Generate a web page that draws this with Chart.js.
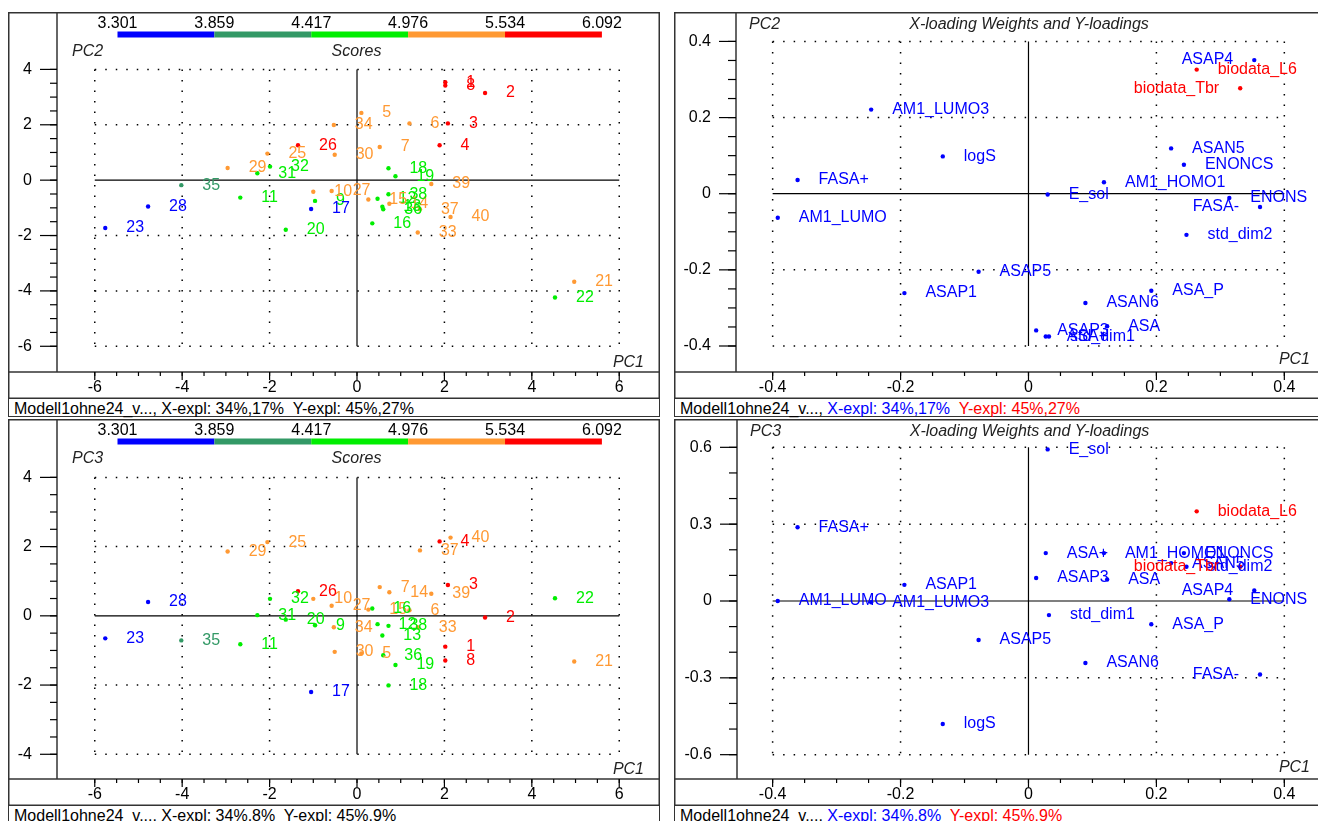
<!DOCTYPE html>
<html>
<head>
<meta charset="utf-8">
<title>PLS scores and loadings</title>
<script src="https://cdn.jsdelivr.net/npm/chart.js@4.4.1/dist/chart.umd.min.js"></script>
<style>
  html, body { margin: 0; padding: 0; background: #fff; }
  body { position: relative; width: 1318px; height: 821px; overflow: hidden; font-family: "Liberation Sans", Arial, sans-serif; }
  .panel { position: absolute; width: 652px; }
  .panel canvas { display: block; }
  .foot { height: 18px; border: 1.5px solid #333; border-top: none; box-sizing: border-box; font-size: 16px; line-height: 19px; white-space: pre; padding-left: 5px; color: #000; overflow: visible; }
  .xb { color: #0000ff; }
  .yr { color: #ff0000; }
</style>
</head>
<body>
<div class="panel" style="left:8px;top:12px"><canvas id="scores12" width="652" height="387"></canvas><div class="foot">Modell1ohne24_v..., X-expl: 34%,17%  Y-expl: 45%,27%</div></div>
<div class="panel" style="left:674px;top:12px"><canvas id="loads12" width="652" height="387"></canvas><div class="foot">Modell1ohne24_v..., <span class="xb">X-expl: 34%,17%</span>  <span class="yr">Y-expl: 45%,27%</span></div></div>
<div class="panel" style="left:8px;top:419px"><canvas id="scores13" width="652" height="387"></canvas><div class="foot">Modell1ohne24_v..., X-expl: 34%,8%  Y-expl: 45%,9%</div></div>
<div class="panel" style="left:674px;top:419px"><canvas id="loads13" width="652" height="387"></canvas><div class="foot">Modell1ohne24_v..., <span class="xb">X-expl: 34%,8%</span>  <span class="yr">Y-expl: 45%,9%</span></div></div>

<script>
// samples in the model (no. 24 left out)
const sampleIds = [1, 2, 3, 4, 5, 6, 7, 8, 9, 10, 11, 12, 13, 14, 15, 16, 17, 18, 19, 20,
  21, 22, 23, 25, 26, 27, 28, 29, 30, 31, 32, 33, 34, 35, 36, 37, 38, 39, 40];
const scorePC1 = [2.02, 2.93, 2.08, 1.89, 0.10, 1.20, 0.52, 2.02, -0.96, -1.00, -2.67, 0.47, 0.58, 0.74, 0.26, 0.35,
  -1.05, 0.72, 0.88, -1.63, 4.97, 4.53, -5.76, -2.05, -1.35, -0.58, -4.78, -2.96, -0.51, -2.28, -1.99, 1.39,
  -0.53, -4.02, 0.60, 1.44, 0.72, 1.70, 2.14];
const scorePC2 = [3.54, 3.15, 2.05, 1.26, 2.43, 2.05, 1.20, 3.42, -0.75, -0.42, -0.63, -0.67, -0.96, -0.85, -0.70, -1.56,
  -1.04, 0.43, 0.14, -1.79, -3.67, -4.24, -1.73, 0.96, 1.26, -0.39, -0.95, 0.44, 0.92, 0.25, 0.49, -1.89,
  1.99, -0.18, -1.05, -1.05, -0.51, -0.14, -1.33];
const scorePC3 = [-0.89, -0.05, 0.89, 2.15, -1.09, 0.16, 0.83, -1.29, -0.27, 0.49, -0.82, -0.24, -0.57, 0.68, 0.18, 0.21,
  -2.20, -2.01, -1.42, -0.11, -1.32, 0.51, -0.65, 2.13, 0.71, 0.29, 0.40, 1.86, -1.04, 0.02, 0.49, -0.33,
  -0.33, -0.71, -1.14, 1.89, -0.29, 0.64, 2.26];
// response class of each sample = bin of the colour bar (0 = lowest)
const responseBin = [4, 4, 4, 4, 3, 3, 3, 4, 2, 3, 2, 2, 2, 3, 3, 2, 0, 2, 2, 2,
  3, 2, 0, 3, 4, 3, 0, 3, 3, 2, 2, 3, 3, 1, 2, 3, 2, 3, 3];
const binEdges = ['3.301', '3.859', '4.417', '4.976', '5.534', '6.092'];

// X-loading weights and Y-loadings
const varNames = ['AM1_LUMO3', 'logS', 'FASA+', 'AM1_LUMO', 'ASAP4', 'E_sol', 'AM1_HOMO1', 'ASAN5', 'ENONCS', 'ENONS',
  'FASA-', 'std_dim2', 'ASAP5', 'ASAP1', 'ASA_P', 'ASAN6', 'ASAP3', 'ASA+', 'std_dim1', 'ASA',
  'biodata_L6', 'biodata_Tbr'];
const varBlock = ['X', 'X', 'X', 'X', 'X', 'X', 'X', 'X', 'X', 'X',
  'X', 'X', 'X', 'X', 'X', 'X', 'X', 'X', 'X', 'X', 'Y', 'Y'];
const loadPC1 = [-0.246, -0.134, -0.361, -0.392, 0.353, 0.030, 0.118, 0.223, 0.243, 0.314,
  0.362, 0.247, -0.078, -0.194, 0.192, 0.089, 0.012, 0.027, 0.032, 0.123, 0.263, 0.331];
const loadPC2 = [0.221, 0.098, 0.036, -0.063, 0.351, -0.002, 0.030, 0.119, 0.076, -0.011,
  -0.035, -0.108, -0.205, -0.261, -0.255, -0.287, -0.359, -0.375, -0.375, -0.348, 0.326, 0.277];
const loadPC3 = [-0.005, -0.480, 0.288, 0.000, 0.041, 0.592, 0.187, 0.148, 0.187, 0.007,
  -0.287, 0.134, -0.152, 0.063, -0.091, -0.242, 0.090, 0.187, -0.055, 0.084, 0.350, 0.134];

// axis ticks
const scoreXTicks = [-6, -4, -2, 0, 2, 4, 6];
const scorePC2Ticks = [-6, -4, -2, 0, 2, 4];
const scorePC3Ticks = [-4, -2, 0, 2, 4];
const loadXTicks = [-0.4, -0.2, 0, 0.2, 0.4];
const loadPC2Ticks = [-0.4, -0.2, 0, 0.2, 0.4];
const loadPC3Ticks = [-0.6, -0.3, 0, 0.3, 0.6];

const FONT = '"Liberation Sans", Arial, Helvetica, sans-serif';
const binColors = ['#0000ff', '#339966', '#00ee00', '#ff9933', '#ff0000'];
const blockColors = { X: '#0000ff', Y: '#ff0000' };

function seg(ctx, x0, y0, x1, y1) {
  ctx.beginPath();
  ctx.moveTo(x0, y0);
  ctx.lineTo(x1, y1);
  ctx.stroke();
}

function steps(ticks, minor) {
  const a = ticks[0], b = ticks[ticks.length - 1];
  const n = Math.round((b - a) / minor);
  const out = [];
  for (let k = 0; k <= n; k++) out.push(a + k * minor);
  return out;
}

function makeDecor(cfg) {
  return {
    id: 'decor',
    beforeDatasetsDraw(chart) {
      const { ctx, scales: { x, y } } = chart;
      const xs = cfg.xTicks, ys = cfg.yTicks;
      const l = x.getPixelForValue(xs[0]), r = x.getPixelForValue(xs[xs.length - 1]);
      const b = y.getPixelForValue(ys[0]), t = y.getPixelForValue(ys[ys.length - 1]);
      ctx.save();
      ctx.strokeStyle = '#000';
      ctx.lineWidth = 1.5;
      ctx.setLineDash([1.5, 9]);
      xs.forEach(v => { if (v !== 0) { const p = x.getPixelForValue(v); seg(ctx, p, t, p, b); } });
      ys.forEach(v => { if (v !== 0) { const p = y.getPixelForValue(v); seg(ctx, l, p, r, p); } });
      ctx.setLineDash([]);
      ctx.lineWidth = 1.2;
      const x0 = x.getPixelForValue(0), y0 = y.getPixelForValue(0);
      seg(ctx, x0, t, x0, b);
      seg(ctx, l, y0, r, y0);
      ctx.restore();
    },
    afterDatasetsDraw(chart) {
      const { ctx, chartArea: ca } = chart;
      const meta = chart.getDatasetMeta(0);
      ctx.save();
      ctx.font = '16px ' + FONT;
      ctx.textBaseline = 'middle';
      meta.data.forEach((pt, i) => {
        const txt = String(cfg.labels[i]);
        const w = ctx.measureText(txt).width;
        ctx.fillStyle = cfg.colors[i];
        if (pt.x + 21 + w > ca.right) {
          ctx.textAlign = 'right';
          ctx.fillText(txt, pt.x - 21, pt.y);
        } else {
          ctx.textAlign = 'left';
          ctx.fillText(txt, pt.x + 21, pt.y);
        }
      });
      ctx.restore();
    },
    afterDraw(chart) {
      const { ctx, chartArea: ca, width: W, height: H, scales: { x, y } } = chart;
      ctx.save();
      // frame
      ctx.strokeStyle = '#333';
      ctx.lineWidth = 1.5;
      seg(ctx, 0, 0.75, W, 0.75);
      seg(ctx, 0.75, 0, 0.75, H);
      seg(ctx, W - 0.75, 0, W - 0.75, H);
      seg(ctx, ca.left, 0, ca.left, ca.bottom);
      seg(ctx, 0, ca.bottom, W, ca.bottom);
      seg(ctx, 0, H - 0.75, W, H - 0.75);

      // y axis ticks
      ctx.strokeStyle = '#000';
      ctx.lineWidth = 1.2;
      steps(cfg.yTicks, cfg.yMinor).forEach(v => {
        const p = y.getPixelForValue(v);
        seg(ctx, ca.left - cfg.yMinorLen, p, ca.left, p);
      });
      ctx.font = '16px ' + FONT;
      ctx.fillStyle = '#000';
      ctx.textAlign = 'right';
      ctx.textBaseline = 'middle';
      cfg.yTicks.forEach(v => {
        const p = y.getPixelForValue(v);
        seg(ctx, ca.left - 17, p, ca.left, p);
        ctx.fillText(String(v), ca.left - 25, p);
      });

      // x axis ticks
      steps(cfg.xTicks, cfg.xMinor).forEach(v => {
        const p = x.getPixelForValue(v);
        seg(ctx, p, ca.bottom, p, ca.bottom + 4);
      });
      ctx.textAlign = 'center';
      cfg.xTicks.forEach(v => {
        const p = x.getPixelForValue(v);
        seg(ctx, p, ca.bottom, p, ca.bottom + 8);
        ctx.fillText(String(v), p, ca.bottom + 16);
      });

      // titles
      ctx.font = 'italic 16px ' + FONT;
      ctx.fillStyle = '#222';
      ctx.textAlign = 'left';
      ctx.fillText(cfg.yTitle, ca.left + cfg.titleDx, cfg.titleY);
      ctx.textAlign = 'center';
      ctx.fillText(cfg.title, (ca.left + ca.right) / 2, cfg.titleY);
      ctx.textAlign = 'right';
      ctx.fillText('PC1', ca.right - 12, ca.bottom - cfg.pc1Dy);

      // colour bar of the response
      if (cfg.bar) {
        const bx = 109.5, bw = 484.4 / binColors.length;
        binColors.forEach((c, k) => {
          ctx.fillStyle = c;
          ctx.fillRect(bx + k * bw, 19.5, bw, 6);
        });
        ctx.font = '16px ' + FONT;
        ctx.fillStyle = '#000';
        ctx.textAlign = 'center';
        binEdges.forEach((txt, k) => ctx.fillText(txt, bx + k * bw, 11.5));
      }
      ctx.restore();
    }
  };
}

function makePanel(id, cfg) {
  const pts = cfg.xs.map((v, i) => ({ x: v, y: cfg.ys[i] }));
  return new Chart(document.getElementById(id), {
    type: 'scatter',
    data: {
      datasets: [{
        data: pts,
        pointBackgroundColor: cfg.colors,
        pointBorderWidth: 0,
        pointRadius: 2.2
      }]
    },
    options: {
      responsive: false,
      animation: false,
      events: [],
      layout: { padding: { left: cfg.axisW, top: 0, right: 0, bottom: 27 } },
      scales: {
        x: { type: 'linear', display: false, min: cfg.xMin, max: cfg.xMax },
        y: { type: 'linear', display: false, min: cfg.yMin, max: cfg.yMax }
      },
      plugins: { legend: { display: false }, tooltip: { enabled: false } }
    },
    plugins: [makeDecor(cfg)]
  });
}

const scoreColors = responseBin.map(k => binColors[k]);
const loadColors = varBlock.map(b => blockColors[b]);

makePanel('scores12', {
  xs: scorePC1, ys: scorePC2, labels: sampleIds, colors: scoreColors,
  xMin: -6.864, xMax: 6.841, yMin: -6.929, yMax: 5.929, axisW: 49,
  xTicks: scoreXTicks, yTicks: scorePC2Ticks, xMinor: 0.5, yMinor: 0.5, yMinorLen: 7,
  yTitle: 'PC2', title: 'Scores', titleDx: 15, titleY: 39.5, pc1Dy: 9, bar: true
});
makePanel('loads12', {
  xs: loadPC1, ys: loadPC2, labels: varNames, colors: loadColors,
  xMin: -0.4573, xMax: 0.4589, yMin: -0.4683, yMax: 0.4668, axisW: 62,
  xTicks: loadXTicks, yTicks: loadPC2Ticks, xMinor: 0.05, yMinor: 0.05, yMinorLen: 8,
  yTitle: 'PC2', title: 'X-loading Weights and Y-loadings', titleDx: 13, titleY: 12.5, pc1Dy: 12, bar: false
});
makePanel('scores13', {
  xs: scorePC1, ys: scorePC3, labels: sampleIds, colors: scoreColors,
  xMin: -6.864, xMax: 6.841, yMin: -4.714, yMax: 5.571, axisW: 49,
  xTicks: scoreXTicks, yTicks: scorePC3Ticks, xMinor: 0.5, yMinor: 0.5, yMinorLen: 7,
  yTitle: 'PC3', title: 'Scores', titleDx: 15, titleY: 39.5, pc1Dy: 9, bar: true
});
makePanel('loads13', {
  xs: loadPC1, ys: loadPC3, labels: varNames, colors: loadColors,
  xMin: -0.4557, xMax: 0.4589, yMin: -0.695, yMax: 0.695, axisW: 63,
  xTicks: loadXTicks, yTicks: loadPC3Ticks, xMinor: 0.05, yMinor: 0.1, yMinorLen: 8,
  yTitle: 'PC3', title: 'X-loading Weights and Y-loadings', titleDx: 13, titleY: 12.5, pc1Dy: 11, bar: false
});
</script>
</body>
</html>
